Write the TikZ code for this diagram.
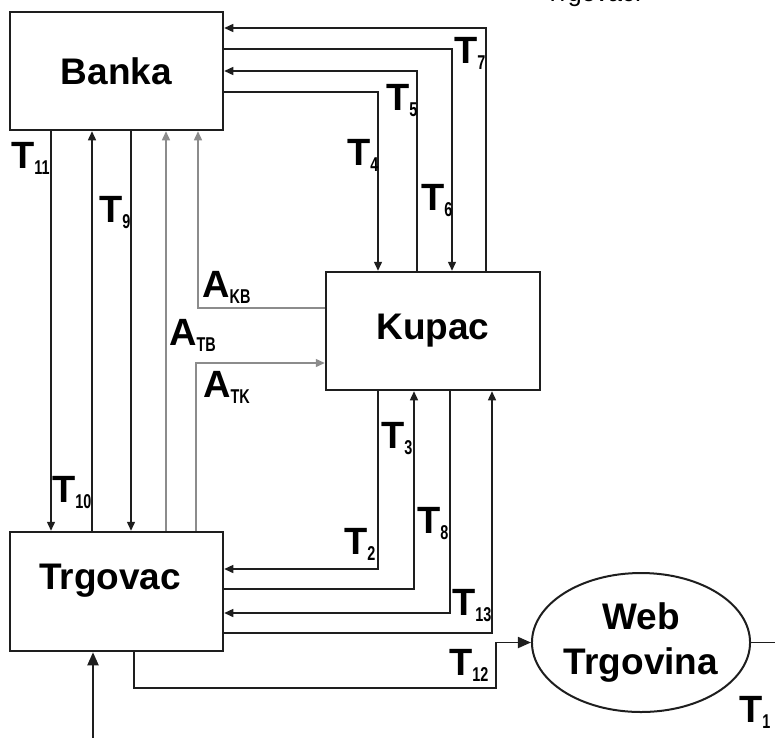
\documentclass[tikz,border=0pt]{standalone}
\usepackage{fontspec}
\usepackage{graphicx}
\setmainfont{Liberation Sans}
\usetikzlibrary{arrows.meta,shapes.geometric}
\definecolor{lgray}{RGB}{140,140,140}
\definecolor{ink}{RGB}{30,30,30}
\newcommand\subtxt[1]{\raisebox{-6pt}{\fontsize{20}{20}\selectfont\bfseries\scalebox{0.72}[1]{#1}}}
\newcommand\tlab[2]{{\bfseries #1}\subtxt{#2}}
\begin{document}
\begin{tikzpicture}[x=1pt,y=-1pt,
  box/.style={draw=ink,line width=2.5pt,inner sep=0pt,rectangle},
  bigtext/.style={font=\fontsize{37}{45}\selectfont\bfseries},
  lab/.style={font=\fontsize{38}{40}\selectfont,inner sep=0pt,anchor=base west},
  conn/.style={draw=ink,line width=1.4pt},
  gconn/.style={draw=lgray,line width=1.4pt},
  arr/.style={-{Triangle[width=8pt,length=9pt]}},
  bigarr/.style={-{Triangle[width=11pt,length=13pt]}}]
\useasboundingbox (0,0) rectangle (775,737);
% top cut text
\node[font=\fontsize{25}{25}\selectfont,inner sep=0pt,anchor=base west] (topcut) at (545,1) {Trgovac.};
% boxes
\node[box,bigtext,minimum width=213pt,minimum height=118pt] (ban) at (116.5,71) {Banka};
\node[box,bigtext,minimum width=214pt,minimum height=118pt] (kup) at (433,331) {Kupac};
\node[box,minimum width=213pt,minimum height=119pt] (trg) at (116.5,591.5) {};
\node[bigtext,inner sep=0pt,anchor=base] (trgtxt) at (110,589) {Trgovac};
\node[draw=ink,line width=2pt,ellipse,inner sep=0pt,minimum width=214pt,minimum height=139pt,
      bigtext,align=center] (web) at (641,642.5) {Web\\Trgovina};
\coordinate (rt) at (780,642.5);
\coordinate (bin) at (93,745);
% Banka <-> Kupac
\draw[conn,arr] (486,0 |- kup.north) |- (ban.east |- 0,28);
\draw[conn,arr] (ban.east |- 0,49) -| (452,0 |- kup.north);
\draw[conn,arr] (417,0 |- kup.north) |- (ban.east |- 0,71);
\draw[conn,arr] (ban.east |- 0,92) -| (378,0 |- kup.north);
% Banka <-> Trgovac
\draw[conn,arr] (51,0 |- ban.south) -- (51,0 |- trg.north);
\draw[conn,arr] (92,0 |- trg.north) -- (92,0 |- ban.south);
\draw[conn,arr] (131,0 |- ban.south) -- (131,0 |- trg.north);
\draw[gconn,arr] (166,0 |- trg.north) -- (166,0 |- ban.south);
\draw[gconn,arr] (kup.west |- 0,308) -| (198,0 |- ban.south);
\draw[gconn,arr] (196,0 |- trg.north) |- (kup.west |- 0,363);
% Kupac <-> Trgovac
\draw[conn,arr] (378,0 |- kup.south) |- (trg.east |- 0,569);
\draw[conn,arr] (trg.east |- 0,589) -| (414,0 |- kup.south);
\draw[conn,arr] (450,0 |- kup.south) |- (trg.east |- 0,613);
\draw[conn,arr] (trg.east |- 0,633) -| (492,0 |- kup.south);
% Trgovac -> Web
\draw[conn,bigarr,line width=1.8pt] (134,0 |- trg.south) |- (496,688) |- (web.west);
\draw[conn,line width=1.8pt] (web.east) -- (rt);
\draw[conn,bigarr,line width=2pt] (bin) -- (93,0 |- trg.south);
% labels
\node[lab] (l11) at (11,168) {\tlab{T}{11}};
\node[lab] (l9) at (99,222) {\tlab{T}{9}};
\node[lab] (l4) at (347,165) {\tlab{T}{4}};
\node[lab] (l5) at (386,110) {\tlab{T}{5}};
\node[lab] (l7) at (454,63) {\tlab{T}{7}};
\node[lab] (l6) at (421,210) {\tlab{T}{6}};
\node[lab] (lkb) at (202,297) {\tlab{A}{KB}};
\node[lab] (ltb) at (169,345) {\tlab{A}{TB}};
\node[lab] (ltk) at (203,397) {\tlab{A}{TK}};
\node[lab] (l10) at (52,502) {\tlab{T}{10}};
\node[lab] (l3) at (381,448) {\tlab{T}{3}};
\node[lab] (l8) at (417,533) {\tlab{T}{8}};
\node[lab] (l2) at (344,554) {\tlab{T}{2}};
\node[lab] (l13) at (452,615) {\tlab{T}{13}};
\node[lab] (l12) at (449,675) {\tlab{T}{12}};
\node[lab] (l1) at (739,722) {\tlab{T}{1}};
\end{tikzpicture}
\end{document}
